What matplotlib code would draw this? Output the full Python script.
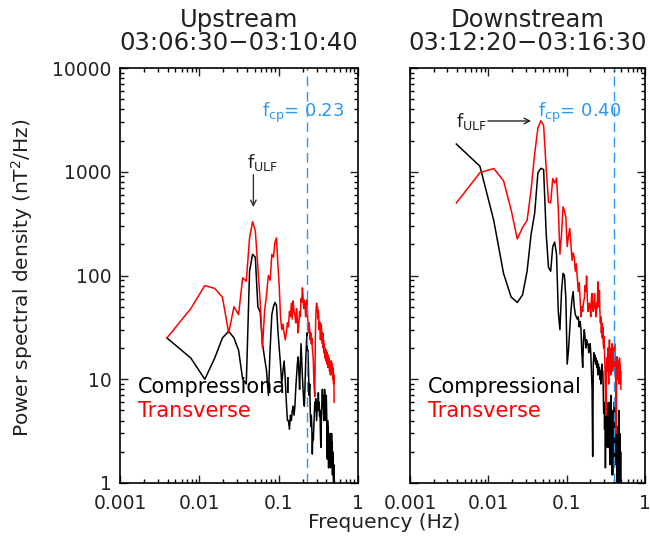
import numpy as np
import matplotlib
matplotlib.use("Agg")
import matplotlib.pyplot as plt
from matplotlib.ticker import LogLocator, NullFormatter, FixedLocator, FixedFormatter

# FFT bin spacing (256 s window)
df = 1.0 / 256

# Upstream 03:06:30-03:10:40
up_trans = [25, 48, 80, 75, 62, 28, 50, 42, 95, 88,
            230, 330, 270, 120, 55, 20, 45, 65, 100, 90,
            160, 150, 210, 230, 130, 80, 40, 30, 34, 28,
            24, 28, 35, 32, 45, 40, 54, 38, 57, 45,
            42, 35, 48, 38, 28, 34, 45, 40, 60, 55,
            76, 62, 48, 58, 54, 40, 50, 58, 45, 32,
            28, 35, 30, 24, 28, 22, 25, 20, 18, 15,
            10, 8, 6.8, 20, 38, 48, 54, 45, 50, 38,
            46, 40, 30, 36, 32, 24, 28, 34, 30, 26,
            22, 28, 20, 24, 18, 22, 19, 16, 20, 18,
            15, 19, 17, 14, 18, 16, 13, 17, 15, 14,
            16, 12, 13.5, 15, 11, 14, 12, 15, 14.5, 12,
            14, 11, 13, 10, 12.5, 9, 11, 6]
up_comp = [25, 16, 10, 16, 25, 29, 25, 19, 10, 9,
           110, 160, 150, 50, 44, 22, 16, 12, 7, 20,
           42, 50, 55, 52, 30, 20, 14, 9, 12, 15,
           10, 6, 4, 4, 3.3, 4.5, 4, 5, 5.5, 4.5,
           5.5, 8, 10.5, 14, 16.4, 12, 8, 14, 22, 15,
           10.5, 8, 6, 5.5, 9, 14, 20, 28, 19, 19,
           12, 7, 9, 5, 3.5, 4.5, 3.5, 1.9, 3, 2.6,
           3.5, 4.4, 6, 5, 6.5, 5, 4, 5, 6, 5,
           7.4, 5, 6, 4.4, 5, 3, 2.2, 3.5, 5, 6,
           8, 6, 7, 5, 4, 6, 8, 7, 5, 6,
           4, 7, 5, 3, 1.7, 4, 2.5, 3.5, 1.4, 3,
           2, 2.5, 1.7, 3, 1.4, 2.2, 1.6, 2, 3, 1.5,
           2.5, 1.2, 2, 1.8, 1.2, 0.9, 1.5, 0.8]

# Downstream 03:12:20-03:16:30
dn_trans = [500, 980, 1075, 820, 430, 225, 290, 340, 670, 1500,
            2650, 3100, 2800, 1100, 510, 500, 860, 780, 870, 450,
            160, 250, 460, 420, 360, 190, 240, 285, 200, 140,
            165, 150, 110, 130, 95, 70, 85, 60, 40, 50,
            45, 55, 60, 80, 70, 99, 60, 45, 50, 54,
            48, 40, 60, 67, 50, 45, 52, 67, 50, 46,
            40, 55, 48, 87, 60, 50, 72, 45, 35, 40,
            28, 35, 25, 32, 22, 20, 26, 18, 12, 7,
            4.5, 10, 16, 12, 15, 20, 14, 9, 18, 24,
            16, 12, 18, 11, 20, 16, 22, 15, 12, 18,
            14, 20, 13, 16, 22, 12, 16, 10, 6, 3,
            8, 14, 16.5, 12, 15, 10, 12, 14, 9, 13,
            16, 11, 14, 9, 12, 8]
dn_comp = [1850, 1130, 340, 105, 62, 55, 65, 110, 250, 400,
           980, 1080, 1050, 260, 120, 110, 190, 210, 160, 45,
           30, 70, 105, 100, 60, 14, 19, 30, 45, 60,
           70, 50, 42, 40, 38, 40, 32, 36, 30, 18,
           13, 24, 30, 25, 20, 24, 22, 22, 18, 20,
           22, 18, 12, 8, 1.8, 14, 18, 15, 17, 14,
           16, 13, 15, 11, 14, 12, 13, 10, 12, 9,
           11, 14, 12, 12, 8, 4.7, 6, 3.3, 5, 1.4,
           5, 2.5, 6, 3, 2.2, 5, 3.5, 2.2, 6, 4,
           1.5, 5, 3, 7, 2, 4, 1.2, 3.5, 1.2, 5,
           2.5, 4, 1.8, 6, 3, 2, 4.5, 1.5, 3, 5,
           2, 0.9, 3.5, 1.5, 1.2, 2.5, 0.8, 1.5, 5, 2,
           0.9, 3, 1.5, 0.8, 2, 0.7]

titles = ["Upstream", "Downstream"]
times = ["03:06:30\u221203:10:40", "03:12:20\u221203:16:30"]
fcp = [0.23, 0.40]
xticks = [0.001, 0.01, 0.1, 1]
xticklabels = ["0.001", "0.01", "0.1", "1"]
yticks = [1, 10, 100, 1000, 10000]
yticklabels = ["1", "10", "100", "1000", "10000"]

blue = "#2a98ee"
txt = "#222222"
W, H = 650, 537
fig = plt.figure(figsize=(W / 100, H / 100), dpi=100)
ax1 = fig.add_axes([120 / W, 54 / H, 238 / W, 415 / H])
ax2 = fig.add_axes([410 / W, 54 / H, 235 / W, 415 / H])

panels = [(ax1, up_comp, up_trans), (ax2, dn_comp, dn_trans)]
for i, (ax, comp, trans) in enumerate(panels):
    f_c = np.arange(1, len(comp) + 1) * df
    f_t = np.arange(1, len(trans) + 1) * df
    ax.plot(f_c, comp, color="black", lw=1.1)
    ax.plot(f_t, trans, color="red", lw=1.1)
    ax.axvline(fcp[i], color=blue, lw=1.0, dashes=(7, 4))
    ax.set_xscale("log")
    ax.set_yscale("log")
    ax.set_xlim(0.001, 1)
    ax.set_ylim(1, 10000)
    ax.xaxis.set_major_locator(FixedLocator(xticks))
    ax.xaxis.set_major_formatter(FixedFormatter(xticklabels))
    ax.xaxis.set_minor_locator(LogLocator(base=10, subs=np.arange(2, 10)))
    ax.xaxis.set_minor_formatter(NullFormatter())
    ax.yaxis.set_major_locator(FixedLocator(yticks))
    ax.yaxis.set_major_formatter(FixedFormatter(yticklabels if i == 0 else [""] * 5))
    ax.yaxis.set_minor_locator(LogLocator(base=10, subs=np.arange(2, 10)))
    ax.yaxis.set_minor_formatter(NullFormatter())
    ax.tick_params(which="both", direction="in", top=True, right=True, width=1.0)
    ax.tick_params(which="major", length=5.5)
    ax.tick_params(which="minor", length=2.8)
    ax.tick_params(axis="x", pad=8, labelsize=13.5, colors=txt)
    ax.tick_params(axis="y", pad=6, labelsize=13.5, colors=txt)
    for s in ax.spines.values():
        s.set_linewidth(1.2)

    ax.text(0.075, 0.217, "Compressional", transform=ax.transAxes, fontsize=15, color="black")
    ax.text(0.075, 0.159, "Transverse", transform=ax.transAxes, fontsize=15, color="red")

    cx = (ax.get_position().x0 + ax.get_position().x1) / 2
    fig.text(cx, 1 - 27 / H, titles[i], ha="center", va="baseline", fontsize=17.5, color=txt)
    fig.text(cx, 1 - 50 / H, times[i], ha="center", va="baseline", fontsize=17.5, color=txt)

# f_cp labels
ax1.text(0.67, 3370, r"f$_{\rm cp}$= 0.23", ha="right", va="baseline", fontsize=13, color=blue)
ax2.text(0.50, 3370, r"f$_{\rm cp}$= 0.40", ha="right", va="baseline", fontsize=13, color=blue)

# ULF markers
ax1.text(0.0404, 1087, r"f$_{\rm ULF}$", ha="left", va="baseline", fontsize=13, color=txt)
ax1.annotate("", xy=(0.048, 428), xytext=(0.048, 995),
             arrowprops=dict(arrowstyle="->", color="#333333", lw=1.0))
ax2.text(0.00385, 2700, r"f$_{\rm ULF}$", ha="left", va="baseline", fontsize=13, color=txt)
ax2.annotate("", xy=(0.0382, 3085), xytext=(0.0091, 3085),
             arrowprops=dict(arrowstyle="->", color=txt, lw=1.0))

fig.text(22 / W, 1 - 278 / H, "Power spectral density (nT$^2$/Hz)", rotation=90,
         ha="center", va="center", fontsize=14.5, color=txt)
fig.text(384 / W, 1 - 522 / H, "Frequency (Hz)", ha="center", va="center",
         fontsize=14.5, color=txt)

fig.savefig("out.png", dpi=100)
